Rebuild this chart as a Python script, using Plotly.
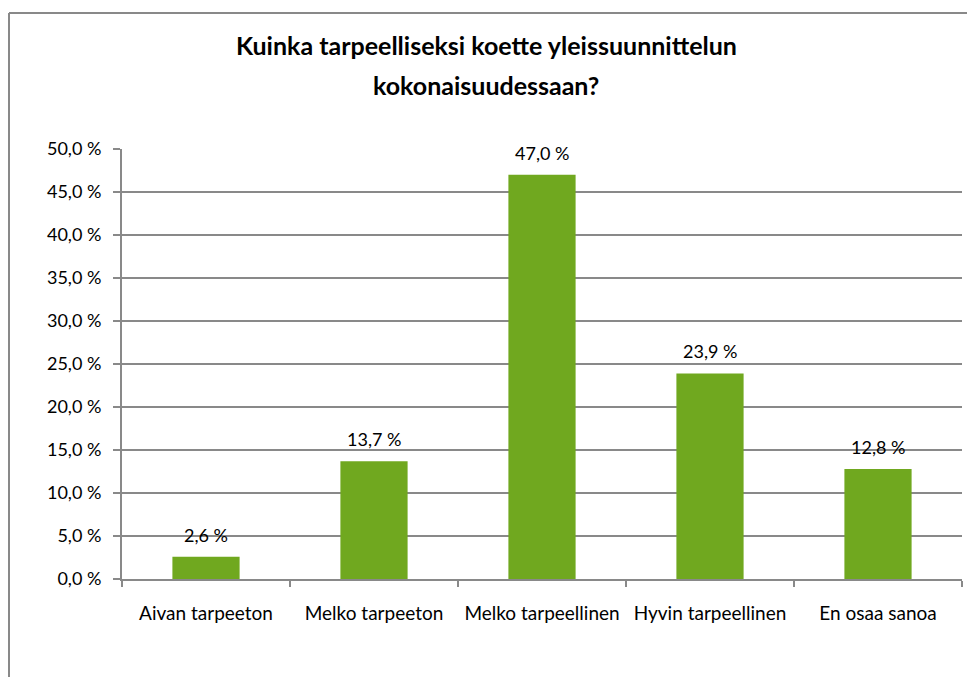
import plotly.graph_objects as go

categories = ["Aivan tarpeeton", "Melko tarpeeton", "Melko tarpeellinen", "Hyvin tarpeellinen", "En osaa sanoa"]
values = [2.6, 13.7, 47.0, 23.9, 12.8]
title_lines = ["Kuinka tarpeelliseksi koette yleissuunnittelun", "kokonaisuudessaan?"]
y_ticks = list(range(0, 55, 5))

def fmt(v):
    return f"{v:.1f}".replace(".", ",") + " %"

labels = [fmt(v) for v in values]
y_ticktext = [fmt(v) for v in y_ticks]

# page is offset by 8px (body margin); positions below are in figure coords
W, H = 975, 677
L, R, T, B = 114, 21, 141, 106
pw, ph = W - L - R, H - T - B

GRAY = "#898989"
FONT = "Lato, 'Open Sans', sans-serif"

fig = go.Figure(go.Bar(
    x=categories, y=values,
    marker=dict(color="#70A81F", line=dict(width=0)),
    width=0.4,
))

# value labels above bars
for c, v, t in zip(categories, values, labels):
    fig.add_annotation(x=c, y=v, text=t, showarrow=False, yanchor="bottom",
                       yshift=9, font=dict(size=18, color="black", family=FONT))

fig.update_layout(
    width=W, height=H,
    margin=dict(l=L, r=R, t=T, b=B),
    paper_bgcolor="white", plot_bgcolor="white",
    font=dict(family=FONT, size=18, color="black"),
    showlegend=False,
)
fig.update_yaxes(range=[0, 50], tickvals=y_ticks, ticktext=y_ticktext,
                 showgrid=True, gridcolor=GRAY, gridwidth=2,
                 showline=True, linecolor=GRAY, linewidth=2,
                 ticks="outside", ticklen=7, tickcolor=GRAY, tickwidth=2,
                 zeroline=False, tickfont=dict(size=18), ticklabelstandoff=8)
fig.update_xaxes(showline=True, linecolor=GRAY, linewidth=2,
                 tickson="boundaries", ticks="outside", ticklen=6, tickcolor=GRAY, tickwidth=2,
                 showgrid=False, tickfont=dict(size=19), ticklabelstandoff=16)

# title as two lines
for i, line in enumerate(title_lines):
    fig.add_annotation(text="<b>" + line + "</b>", xref="paper", yref="paper",
                       x=(478 - L) / pw, y=(H - B - (37 + 40 * i)) / ph,
                       xanchor="center", yanchor="middle", showarrow=False,
                       font=dict(size=25, family=FONT, color="black"))

# outer chart border (left and top edges visible)
bx = (1 - L) / pw
by = (H - B - 5) / ph
fig.add_shape(type="line", xref="paper", yref="paper", x0=bx, x1=bx, y0=-1, y1=by,
              line=dict(color=GRAY, width=2))
fig.add_shape(type="line", xref="paper", yref="paper", x0=bx, x1=2, y0=by, y1=by,
              line=dict(color=GRAY, width=2))

fig.write_html("out.html")
